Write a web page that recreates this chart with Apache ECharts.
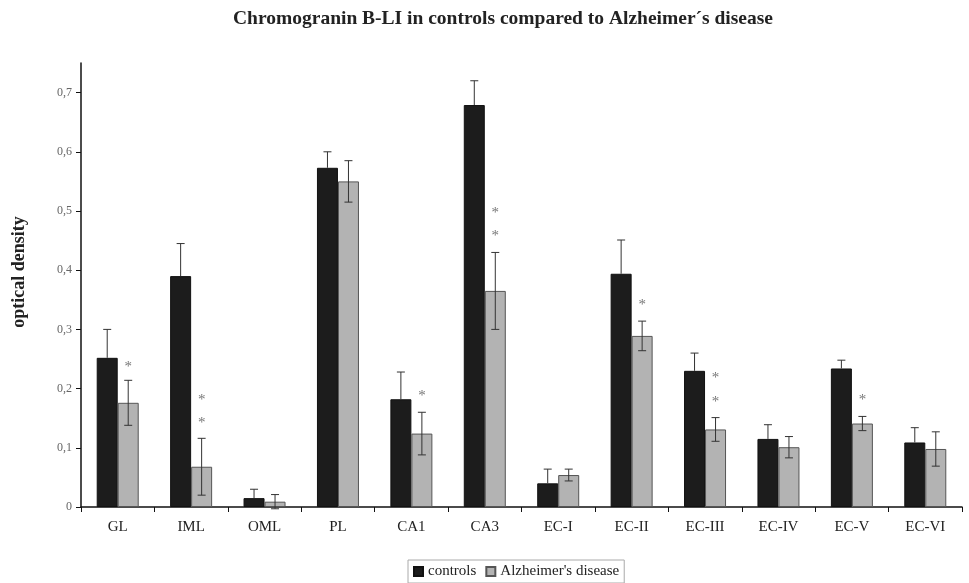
<!DOCTYPE html>
<html>
<head>
<meta charset="utf-8">
<script src="https://cdn.jsdelivr.net/npm/echarts@6/dist/echarts.min.js"></script>
<style>
  html, body { margin: 0; padding: 0; background: #fff; }
  #chart { width: 969px; height: 583px; }
</style>
</head>
<body>
<div id="chart"></div>
<script>
const categories = ['GL', 'IML', 'OML', 'PL', 'CA1', 'CA3', 'EC-I', 'EC-II', 'EC-III', 'EC-IV', 'EC-V', 'EC-VI'];
const controls    = [0.252, 0.390, 0.015, 0.573, 0.182, 0.679, 0.040, 0.394, 0.230, 0.115, 0.234, 0.109];
const controlsErr = [0.048, 0.055, 0.015, 0.027, 0.046, 0.041, 0.024, 0.057, 0.030, 0.024, 0.014, 0.025];
const alzheimer    = [0.176, 0.068, 0.009, 0.550, 0.124, 0.365, 0.054, 0.289, 0.131, 0.101, 0.141, 0.098];
const alzheimerErr = [0.038, 0.048, 0.012, 0.035, 0.036, 0.065, 0.010, 0.025, 0.020, 0.018, 0.012, 0.029];
// significance markers: [category index, value position]
const asterisks = [[0, 0.242], [1, 0.186], [1, 0.147], [4, 0.193], [5, 0.501], [5, 0.463], [7, 0.347], [8, 0.223], [8, 0.183], [10, 0.186]];
const yTicks = [0, 0.1, 0.2, 0.3, 0.4, 0.5, 0.6, 0.7];

const SERIF = "'Liberation Serif', 'DejaVu Serif', serif";
const BAR_W = 21;

function errRender(offset, upperOnly) {
  return function (params, api) {
    const idx = api.value(0), v = api.value(1), e = api.value(2);
    const c = api.coord([idx, v]);
    const x = c[0] + offset;
    const hi = api.coord([idx, v + e])[1];
    const lo = upperOnly ? c[1] : api.coord([idx, v - e])[1];
    const cap = 4;
    const style = { stroke: '#333', lineWidth: 1 };
    const children = [
      { type: 'line', shape: { x1: x, y1: hi, x2: x, y2: lo }, style: style },
      { type: 'line', shape: { x1: x - cap, y1: hi, x2: x + cap, y2: hi }, style: style }
    ];
    if (!upperOnly) children.push({ type: 'line', shape: { x1: x - cap, y1: lo, x2: x + cap, y2: lo }, style: style });
    return { type: 'group', children: children };
  };
}

const chart = echarts.init(document.getElementById('chart'), null, { renderer: 'canvas' });
chart.setOption({
  animation: false,
  backgroundColor: '#fff',
  title: {
    text: 'Chromogranin B-LI in controls compared to Alzheimer\u00b4s disease',
    left: 228, top: 4,
    textStyle: { fontFamily: SERIF, fontWeight: 'bold', fontSize: 19.5, color: '#222' }
  },
  legend: {
    data: ['controls', "Alzheimer's disease"],
    left: 408, top: 560,
    borderColor: '#aaa', borderWidth: 1, padding: [4, 5, 4, 5],
    itemWidth: 9, itemHeight: 9, itemGap: 9, icon: 'rect',
    textStyle: { fontFamily: SERIF, fontSize: 15, color: '#222' }
  },
  grid: { left: 81, right: 7, top: 63, bottom: 76, containLabel: false },
  xAxis: {
    type: 'category',
    data: categories,
    axisLine: { lineStyle: { color: '#111', width: 1.5 } },
    axisTick: { show: true, length: 5, lineStyle: { color: '#111' } },
    axisLabel: { fontFamily: SERIF, fontSize: 15, color: '#222', margin: 13 }
  },
  yAxis: {
    type: 'value',
    min: 0, max: 0.75, interval: 0.1,
    name: 'optical density',
    nameLocation: 'middle', nameGap: 53,
    nameTextStyle: { fontFamily: SERIF, fontWeight: 'bold', fontSize: 18, color: '#222', padding: [0, 0, 0, 26] },
    axisLine: { show: true, lineStyle: { color: '#111', width: 1.5 } },
    axisTick: { show: true, length: 5, lineStyle: { color: '#111' }, customValues: yTicks },
    splitLine: { show: false },
    axisLabel: {
      fontFamily: SERIF, fontSize: 12, color: '#666', margin: 9,
      customValues: yTicks,
      formatter: function (v) { return v === 0 ? '0' : v.toFixed(1).replace('.', ','); }
    }
  },
  series: [
    {
      name: 'controls', type: 'bar', data: controls,
      barWidth: BAR_W, barGap: '0%',
      itemStyle: { color: '#1c1c1c', borderColor: '#111', borderWidth: 1 }
    },
    {
      name: "Alzheimer's disease", type: 'bar', data: alzheimer,
      barWidth: BAR_W, barGap: '0%',
      itemStyle: { color: '#b3b3b3', borderColor: '#555', borderWidth: 1 }
    },
    {
      type: 'custom', z: 5,
      renderItem: errRender(-BAR_W / 2, true),
      encode: { x: 0, y: 1 },
      data: controls.map((v, i) => [i, v, controlsErr[i]])
    },
    {
      type: 'custom', z: 5,
      renderItem: errRender(BAR_W / 2, false),
      encode: { x: 0, y: 1 },
      data: alzheimer.map((v, i) => [i, v, alzheimerErr[i]])
    },
    {
      type: 'custom', z: 6,
      renderItem: function (params, api) {
        const c = api.coord([api.value(0), api.value(1)]);
        return {
          type: 'text',
          style: {
            x: c[0] + BAR_W / 2, y: c[1] + 3, text: '*',
            fill: '#777', font: '15px ' + SERIF,
            textAlign: 'center', textVerticalAlign: 'middle'
          }
        };
      },
      encode: { x: 0, y: 1 },
      data: asterisks
    }
  ]
});
</script>
</body>
</html>
